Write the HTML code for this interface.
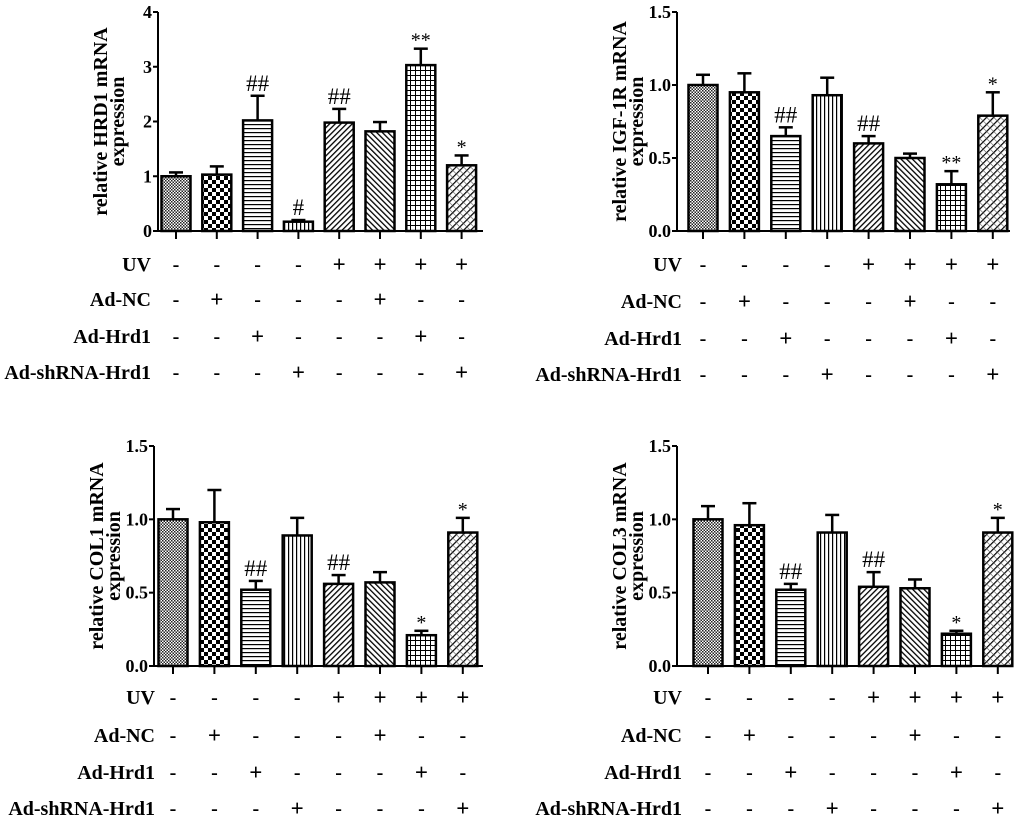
<!DOCTYPE html>
<html><head><meta charset="utf-8"><style>
html,body{margin:0;padding:0;background:#fff}
svg{display:block;font-family:"Liberation Serif",serif;font-weight:bold}
</style></head><body>
<svg id="fig" width="1020" height="819" viewBox="0 0 1020 819">
<defs>
<pattern id="p0" width="3" height="3" patternUnits="userSpaceOnUse"><rect width="3" height="3" fill="#fff"/><rect width="1.5" height="1.5" fill="#222"/><rect x="1.5" y="1.5" width="1.5" height="1.5" fill="#222"/></pattern>
<pattern id="p1" width="8" height="8" patternUnits="userSpaceOnUse"><rect width="8" height="8" fill="#fff"/><rect width="4" height="4" fill="#000"/><rect x="4" y="4" width="4" height="4" fill="#000"/></pattern>
<pattern id="p2" width="4" height="4" patternUnits="userSpaceOnUse"><rect width="4" height="4" fill="#fff"/><rect width="4" height="1.2" fill="#000"/></pattern>
<pattern id="p3" width="4" height="4" patternUnits="userSpaceOnUse"><rect width="4" height="4" fill="#fff"/><rect width="1.2" height="4" fill="#000"/></pattern>
<pattern id="p4" width="4" height="4" patternUnits="userSpaceOnUse" patternTransform="rotate(45)"><rect width="4" height="4" fill="#fff"/><rect width="1.3" height="4" fill="#000"/></pattern>
<pattern id="p5" width="4" height="4" patternUnits="userSpaceOnUse" patternTransform="rotate(-45)"><rect width="4" height="4" fill="#fff"/><rect width="1.3" height="4" fill="#000"/></pattern>
<pattern id="p6" width="5" height="5" patternUnits="userSpaceOnUse"><rect width="5" height="5" fill="#fff"/><rect width="5" height="1" fill="#000"/><rect width="1" height="5" fill="#000"/></pattern>
<pattern id="p7" width="5" height="5" patternUnits="userSpaceOnUse" patternTransform="rotate(45)"><rect width="5" height="5" fill="#fff"/><rect width="1.2" height="5" fill="#000"/><rect width="5" height="0.6" fill="#555"/></pattern>
</defs>
</svg>
<script>
const hrd1Values=[1.0,1.03,2.02,0.17,1.98,1.82,3.03,1.2];
const hrd1Errors=[0.07,0.15,0.45,0.03,0.25,0.17,0.3,0.18];
const hrd1Marks=["","","##","#","##","","**","*"];
const igfValues=[1.0,0.95,0.65,0.93,0.6,0.5,0.32,0.79];
const igfErrors=[0.07,0.13,0.06,0.12,0.05,0.03,0.09,0.16];
const igfMarks=["","","##","","##","","**","*"];
const col1Values=[1.0,0.98,0.52,0.89,0.56,0.57,0.21,0.91];
const col1Errors=[0.07,0.22,0.06,0.12,0.06,0.07,0.03,0.1];
const col1Marks=["","","##","","##","","*","*"];
const col3Values=[1.0,0.96,0.52,0.91,0.54,0.53,0.22,0.91];
const col3Errors=[0.09,0.15,0.04,0.12,0.1,0.06,0.02,0.1];
const col3Marks=["","","##","","##","","*","*"];
const tickHrd1=[0,1,2,3,4];
const tickLabelsHrd1=["0","1","2","3","4"];
const tickRel=[0,0.5,1.0,1.5];
const tickLabelsRel=["0.0","0.5","1.0","1.5"];
const rowLabels=["UV","Ad-NC","Ad-Hrd1","Ad-shRNA-Hrd1"];
const rowSigns=[["-","-","-","-","+","+","+","+"],["-","+","-","-","-","+","-","-"],["-","-","+","-","-","-","+","-"],["-","-","-","+","-","-","-","+"]];

const NS="http://www.w3.org/2000/svg";
const svg=document.getElementById('fig');
function mk(tag,attrs,parent,text){const e=document.createElementNS(NS,tag);for(const k in attrs)e.setAttribute(k,attrs[k]);if(text!==undefined)e.textContent=text;parent.appendChild(e);return e;}

const panels=[
 {id:"hrd1",title:"relative HRD1 mRNA",vals:hrd1Values,errs:hrd1Errors,marks:hrd1Marks,ticks:tickHrd1,tl:tickLabelsHrd1,max:4,ax:158,yt:12,yb:231,c0:176,dx:40.8,xend:483,rows:[264,299,336,372],lr:151},
 {id:"igf1r",title:"relative IGF-1R mRNA",vals:igfValues,errs:igfErrors,marks:igfMarks,ticks:tickRel,tl:tickLabelsRel,max:1.5,ax:677,yt:12,yb:231,c0:703,dx:41.4,xend:1010,rows:[264,301,338,374],lr:682},
 {id:"col1",title:"relative COL1 mRNA",vals:col1Values,errs:col1Errors,marks:col1Marks,ticks:tickRel,tl:tickLabelsRel,max:1.5,ax:154,yt:446,yb:666,c0:173,dx:41.4,xend:483,rows:[697,735,772,808],lr:155},
 {id:"col3",title:"relative COL3 mRNA",vals:col3Values,errs:col3Errors,marks:col3Marks,ticks:tickRel,tl:tickLabelsRel,max:1.5,ax:677,yt:446,yb:666,c0:708,dx:41.4,xend:1010,rows:[697,735,772,808],lr:682}
];

panels.forEach(P=>{
 const g=mk('g',{},svg);
 
 
 const y=v=>P.yb-(v/P.max)*(P.yb-P.yt);
 const x=i=>P.c0+i*P.dx;
 const bw=29;
 const ya=mk('line',{x1:P.ax,y1:P.yt,x2:P.ax,y2:P.yb,stroke:'#000','stroke-width':2},g);
 
 
 P.ticks.forEach((t,i)=>{
  mk('line',{x1:P.ax-5,y1:y(t),x2:P.ax,y2:y(t),stroke:'#000','stroke-width':2},g);
  const tl=mk('text',{x:P.ax-6,y:y(t)+6,'text-anchor':'end','font-size':18},g,P.tl[i]);
  
  
 });
 const xa=mk('line',{x1:P.ax,y1:P.yb,x2:P.xend,y2:P.yb,stroke:'#000','stroke-width':2},g);
 
 
 const tx=P.ax-51, ty=(P.yt+P.yb)/2;
 const tt=mk('text',{transform:`translate(${tx},${ty}) rotate(-90)`,'text-anchor':'middle','font-size':20},g,P.title);
 
 
 const tt2=mk('text',{transform:`translate(${tx+17},${ty}) rotate(-90)`,'text-anchor':'middle','font-size':20},g,'expression');
 
 
 P.vals.forEach((v,i)=>{
  const cx=x(i), top=y(v), et=y(v+P.errs[i]);
  mk('line',{x1:cx,y1:P.yb,x2:cx,y2:P.yb+8,stroke:'#000','stroke-width':2},g);
  mk('line',{x1:cx,y1:top,x2:cx,y2:et,stroke:'#000','stroke-width':2.5},g);
  mk('line',{x1:cx-7,y1:et,x2:cx+7,y2:et,stroke:'#000','stroke-width':2.5},g);
  const r=mk('rect',{x:cx-bw/2,y:top,width:bw,height:P.yb-top,fill:`url(#p${i})`,stroke:'#000','stroke-width':2.5},g);
  
  
  if(P.marks[i]){
   const isHash=P.marks[i].includes('#');
   const m=mk('text',{x:cx,y:et-(isHash?5:2),'text-anchor':'middle','font-size':isHash?23:20,'font-weight':'normal'},g,P.marks[i]);
   
   
  }
 });
 rowLabels.forEach((lab,r)=>{
  const ry=P.rows[r];
  const lt=mk('text',{x:P.lr,y:ry+7,'text-anchor':'end','font-size':20},g,lab);
  
  
  rowSigns[r].forEach((s,i)=>{
   const st=mk('text',{x:x(i),y:ry+(s==='+'?8:7),'text-anchor':'middle','font-size':s==='+'?23:20},g,s);
   
   
  });
 });
});
</script>
</body></html>
